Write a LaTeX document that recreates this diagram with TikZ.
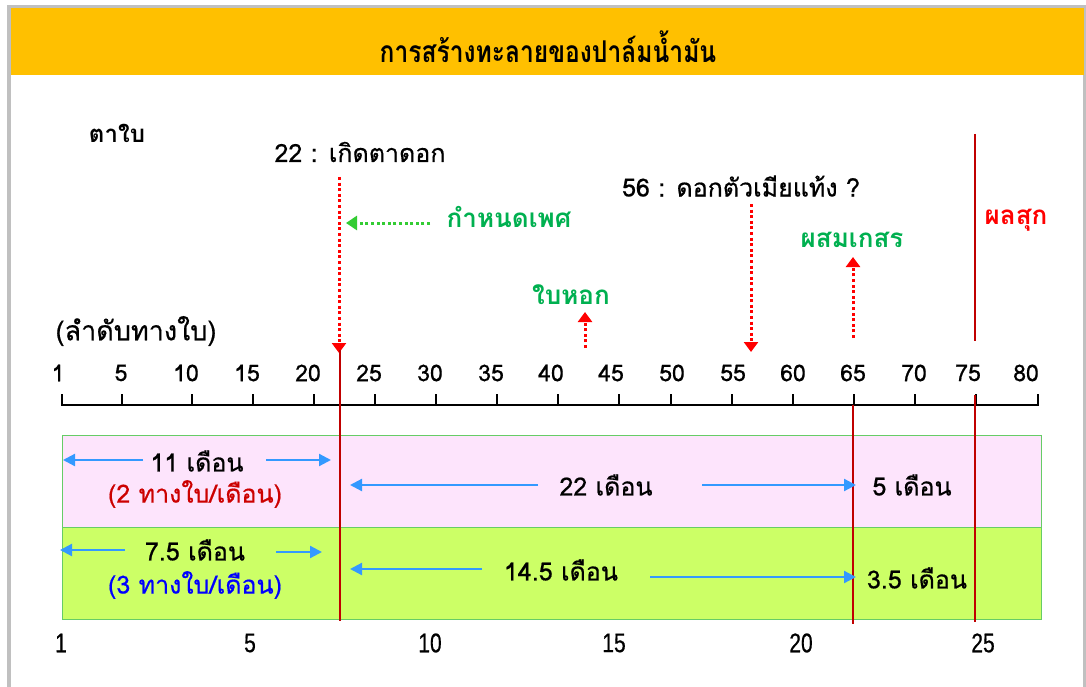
\documentclass[tikz,border=0pt]{standalone}
\usepackage{fontspec}
\setmainfont[Script=Thai]{Loma}
\newfontfamily\medfont[Script=Thai,FakeBold=0.6]{Loma}
\newfontfamily\narrowfont[FakeStretch=0.78,FakeBold=0.5]{Liberation Sans}
\newfontfamily\titlefont[Script=Thai,FakeStretch=0.82]{Loma}
\usetikzlibrary{arrows.meta}
\definecolor{hdr}{HTML}{FFC000}
\definecolor{framegray}{HTML}{C0C0C0}
\definecolor{bandpink}{HTML}{FDE4FC}
\definecolor{bandgreen}{HTML}{CCFF66}
\definecolor{bandedge}{HTML}{66CC66}
\definecolor{darkred}{HTML}{C00000}
\definecolor{dotred}{HTML}{FF0000}
\definecolor{dotgreen}{HTML}{33CC33}
\definecolor{lblgreen}{HTML}{00B050}
\definecolor{arrblue}{HTML}{3399FF}
\definecolor{txtblue}{HTML}{0000FF}
\definecolor{txtred}{HTML}{CC0000}
\begin{document}
\begin{tikzpicture}[x=1pt,y=-1pt,
  lbl/.style={inner sep=0pt, font=\medfont\fontsize{25}{30}\selectfont},
  boldlbl/.style={inner sep=0pt, font=\bfseries\fontsize{26}{30}\selectfont},
  ticklbl/.style={inner sep=0pt, font=\medfont\fontsize{23}{27}\selectfont},
  botlbl/.style={inner sep=0pt, font=\narrowfont\fontsize{27}{30}\selectfont},
  axisline/.style={line width=2.2pt, black},
  dotarrow/.style={dotred, line width=3pt, dash pattern=on 3pt off 2.6pt, -{Triangle[length=10pt,width=14pt]}},
  greenarrow/.style={dotgreen, line width=3pt, dash pattern=on 3pt off 2.6pt, -{Triangle[length=11pt,width=14pt]}},
  redline/.style={darkred, line width=2.2pt},
  bluearrow/.style={arrblue, line width=2.2pt, -{Triangle[length=12pt,width=12pt]}},
  band/.style={draw=bandedge, line width=1.2pt, inner sep=0pt, anchor=north west, minimum width=979pt}
]
\useasboundingbox (0,0) rectangle (1086,687);
\fill[white] (0,0) rectangle (1086,687);
% frame and header
\draw[framegray, line width=3.5pt] (9,690) -- (9,6.5) -- (1085,6.5) -- (1085,690);
\fill[hdr] (11,8) rectangle (1083.5,75);
\node[inner sep=0pt, font=\titlefont\bfseries\fontsize{30}{34}\selectfont] (title) at (548,47) {การสร้างทะลายของปาล์มน้ำมัน};

% bands
\node[band, fill=bandpink, minimum height=92pt] (band1) at (62,435) {};
\node[band, fill=bandgreen, minimum height=92pt] (band2) at (62,527) {};

% axis
\draw[axisline] (62,394) -- (62,405) -- (1038,405) -- (1038,394);
\foreach \tx in {122,192,253,314,375,436,497,558,619,671,732,793,854,915,976}
  \draw[axisline] (\tx,394) -- (\tx,405);
\foreach \lx/\lt in {58/1,121/5,186/10,247/15,308/20,369/25,430/30,491/35,551/40,611/45,672/50,733/55,793/60,853/65,914/70,968/75,1026/80}
  \node[ticklbl] at (\lx,373) {\lt};

% labels
\node[inner sep=0pt, font=\bfseries\fontsize{24}{28}\selectfont] (taibai) at (117,133) {ตาใบ};
\node[lbl] (l22) at (360,152) {22 : เกิดตาดอก};
\node[boldlbl, text=lblgreen] (sex) at (509,217) {กำหนดเพศ};
\node[boldlbl, text=lblgreen] (baihok) at (571,295) {ใบหอก};
\node[lbl] (l56) at (741,186) {56 : ดอกตัวเมียแท้ง ?};
\node[boldlbl, text=lblgreen] (pollen) at (852,240) {ผสมเกสร};
\node[boldlbl, text=dotred] (ripe) at (1016,220) {ผลสุก};
\node[lbl, font=\medfont\fontsize{27}{30}\selectfont] (order) at (136,331) {(ลำดับทางใบ)};

% dotted arrows
\coordinate (a22s) at (339,177);
\coordinate (a22e) at (339,353);
\draw[dotarrow] (a22s) -- (a22e);
\coordinate (gs) at (430,223);
\coordinate (ge) at (346,223);
\draw[greenarrow] (gs) -- (ge);
\coordinate (bhs) at (585,348);
\coordinate (bhe) at (585,312);
\draw[dotarrow] (bhs) -- (bhe);
\coordinate (a56s) at (751,204);
\coordinate (a56e) at (751,352);
\draw[dotarrow] (a56s) -- (a56e);
\coordinate (ps) at (853,338);
\coordinate (pe) at (853,257);
\draw[dotarrow] (ps) -- (pe);

% red lines
\coordinate (r1t) at (340,350);
\coordinate (r1b) at (340,621);
\draw[redline] (r1t) -- (r1b);
\coordinate (r2t) at (853,405);
\coordinate (r2b) at (853,624);
\draw[redline] (r2t) -- (r2b);
\coordinate (r3t) at (975,134);
\coordinate (r3m) at (975,341);
\draw[redline] (r3t) -- (r3m);
\coordinate (r3u) at (975,395);
\coordinate (r3b) at (975,622);
\draw[redline] (r3u) -- (r3b);

% band 1 texts
\node[lbl] (m11) at (197,461) {11 เดือน};
\node[lbl, text=txtred] (rate2) at (195,494) {(2 ทางใบ/เดือน)};
\node[lbl] (m22) at (606,485) {22 เดือน};
\node[lbl] (m5) at (912,485) {5 เดือน};
\coordinate (b1a) at (143,460); \coordinate (b1b) at (63,460);
\draw[bluearrow] (b1a) -- (b1b);
\coordinate (b1c) at (266,460); \coordinate (b1d) at (331,460);
\draw[bluearrow] (b1c) -- (b1d);
\coordinate (b1e) at (538,485); \coordinate (b1f) at (350,485);
\draw[bluearrow] (b1e) -- (b1f);
\coordinate (b1g) at (702,485); \coordinate (b1h) at (856,485);
\draw[bluearrow] (b1g) -- (b1h);

% band 2 texts
\node[lbl] (m75) at (195,550) {7.5 เดือน};
\node[lbl, text=txtblue] (rate3) at (195,585) {(3 ทางใบ/เดือน)};
\node[lbl] (m145) at (561,570) {14.5 เดือน};
\node[lbl] (m35) at (917,578) {3.5 เดือน};
\coordinate (b2a) at (125,550); \coordinate (b2b) at (60,550);
\draw[bluearrow] (b2a) -- (b2b);
\coordinate (b2c) at (276,552); \coordinate (b2d) at (322,552);
\draw[bluearrow] (b2c) -- (b2d);
\coordinate (b2e) at (482,569); \coordinate (b2f) at (350,569);
\draw[bluearrow] (b2e) -- (b2f);
\coordinate (b2g) at (650,577); \coordinate (b2h) at (856,577);
\draw[bluearrow] (b2g) -- (b2h);

% bottom scale
\foreach \bx/\bt in {61/1,250/5,430/10,614/15,801/20,983/25}
  \node[botlbl] at (\bx,643) {\bt};
\end{tikzpicture}
\end{document}
